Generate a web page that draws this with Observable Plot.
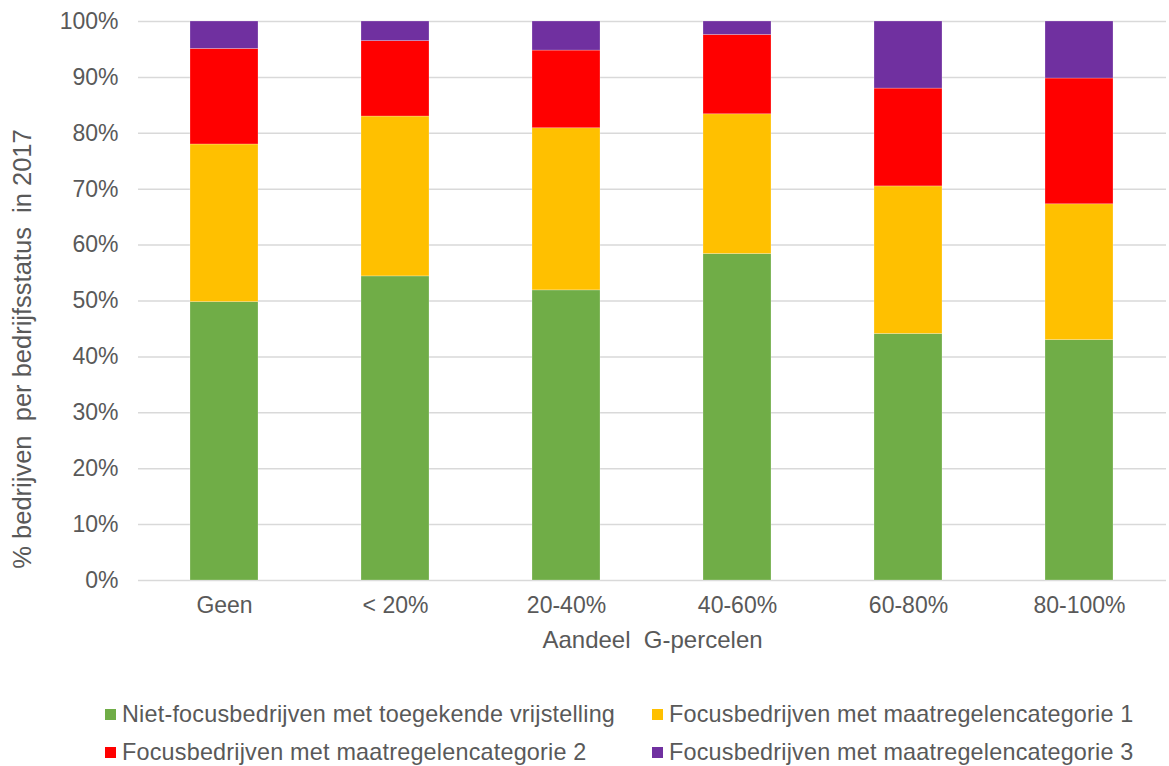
<!DOCTYPE html>
<html>
<head>
<meta charset="utf-8">
<script src="https://cdn.jsdelivr.net/npm/d3@7"></script>
<script src="https://cdn.jsdelivr.net/npm/@observablehq/plot@0.6"></script>
<style>
  body { margin: 0; background: #fff; font-family: "Liberation Sans", Arial, sans-serif; }
  #wrap { position: relative; width: 1169px; height: 766px; }
  .legend { position: absolute; left: 0; top: 0; }
  .item { position: absolute; display: flex; align-items: center; font-size: 23.4px; color: #595959; white-space: nowrap; letter-spacing: 0.2px; }
  .sw { width: 11px; height: 11px; margin-right: 6px; }
</style>
</head>
<body>
<div id="wrap"></div>
<script>
const categories = ["Geen", "< 20%", "20-40%", "40-60%", "60-80%", "80-100%"];
const seriesNames = [
  "Niet-focusbedrijven met toegekende vrijstelling",
  "Focusbedrijven met maatregelencategorie 1",
  "Focusbedrijven met maatregelencategorie 2",
  "Focusbedrijven met maatregelencategorie 3"
];
const seriesColors = ["#70ad47", "#ffc000", "#ff0000", "#7030a0"];
const nietFocus = [49.8, 54.4, 51.9, 58.4, 44.1, 43.0];
const cat1 = [28.2, 28.6, 29.0, 25.0, 26.4, 24.3];
const cat2 = [17.1, 13.5, 13.9, 14.2, 17.5, 22.5];
const cat3 = [4.9, 3.5, 5.2, 2.4, 12.0, 10.2];
const yTicks = [0, 10, 20, 30, 40, 50, 60, 70, 80, 90, 100];

const seriesValues = [nietFocus, cat1, cat2, cat3];
const data = [];
seriesNames.forEach((s, i) => {
  categories.forEach((c, j) => data.push({ cat: c, series: s, value: seriesValues[i][j] }));
});

const chart = Plot.plot({
  width: 1169,
  height: 672,
  marginLeft: 138,
  marginRight: 3,
  marginTop: 21,
  marginBottom: 92,
  style: { fontFamily: "'Liberation Sans', Arial, sans-serif", fontSize: "23px", color: "#595959", background: "#fff" },
  x: { domain: categories, paddingInner: 0.6, paddingOuter: 0.3, label: null },
  y: { domain: [0, 100], label: null },
  color: { domain: seriesNames, range: seriesColors },
  marks: [
    Plot.ruleY(yTicks, { stroke: "#d9d9d9", strokeWidth: 1.5 }),
    Plot.barY(data, { x: "cat", y: "value", fill: "series", stroke: "#ffffff", strokeOpacity: 0.4, strokeWidth: 0.6 }),
    Plot.axisY(yTicks, { tickSize: 0, tickPadding: 20, tickFormat: d => d + "%", label: null, fill: "#595959", fontSize: 23 }),
    Plot.axisX({ tickSize: 0, tickPadding: 16, label: null, fill: "#595959", fontSize: 23 }),
    Plot.text(["% bedrijven  per bedrijfsstatus  in 2017"], { frameAnchor: "left", dx: -116, dy: 48, rotate: -90, textAnchor: "middle", fontSize: 25.5, fill: "#595959" }),
    Plot.text(["Aandeel  G-percelen"], { frameAnchor: "bottom", dy: 67, fontSize: 24, fill: "#595959" })
  ]
});
chart.style.position = "absolute";
chart.style.left = "0px";
chart.style.top = "0px";
const wrap = document.getElementById("wrap");
wrap.appendChild(chart);

const legend = document.createElement("div");
legend.className = "legend";
const positions = [[105, 714], [652, 714], [105, 752], [652, 752]];
seriesNames.forEach((s, i) => {
  const it = document.createElement("div");
  it.className = "item";
  it.style.left = positions[i][0] + "px";
  it.style.top = (positions[i][1] - 14) + "px";
  it.style.height = "28px";
  const sw = document.createElement("span");
  sw.className = "sw";
  sw.style.background = seriesColors[i];
  const tx = document.createElement("span");
  tx.textContent = s;
  it.appendChild(sw);
  it.appendChild(tx);
  legend.appendChild(it);
});
wrap.appendChild(legend);
</script>
</body>
</html>
